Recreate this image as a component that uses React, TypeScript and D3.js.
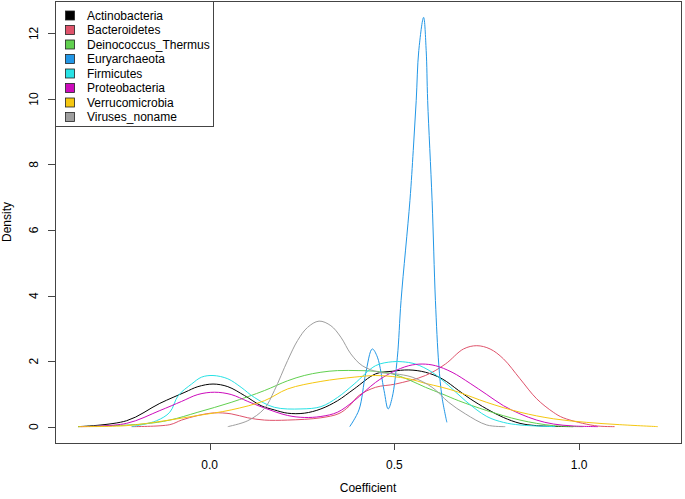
import * as d3 from 'd3'
import { useEffect, useRef } from 'react'

const width = 685, height = 499
const box = { left: 55, right: 681, top: 1, bottom: 443 }

const phyla = [
  'Actinobacteria', 'Bacteroidetes', 'Deinococcus_Thermus', 'Euryarchaeota',
  'Firmicutes', 'Proteobacteria', 'Verrucomicrobia', 'Viruses_noname',
]
const colors = ['#000000', '#DF536B', '#61D04F', '#2297E6', '#28E2E5', '#CD0BBC', '#F5C710', '#9E9E9E']

// density curves, [coefficient, density]
const actinobacteria = [
  [-0.356, 0], [-0.225, 0.18], [-0.135, 0.71], [-0.067, 1.05], [-0.032, 1.22], [0.009, 1.3],
  [0.049, 1.22], [0.094, 0.95], [0.139, 0.64], [0.175, 0.51], [0.211, 0.41], [0.256, 0.41],
  [0.301, 0.54], [0.346, 0.79], [0.391, 1.15], [0.449, 1.61], [0.494, 1.69], [0.539, 1.73],
  [0.584, 1.66], [0.629, 1.46], [0.674, 1.1], [0.705, 0.85], [0.75, 0.54], [0.795, 0.28],
  [0.84, 0.1], [0.885, 0.03], [0.984, 0],
]
const bacteroidetes = [
  [-0.211, 0], [-0.108, 0.06], [-0.076, 0.2], [-0.032, 0.34], [0.013, 0.42], [0.058, 0.39],
  [0.103, 0.27], [0.148, 0.2], [0.211, 0.2], [0.301, 0.27], [0.35, 0.4], [0.377, 0.62],
  [0.404, 0.95], [0.449, 1.2], [0.503, 1.3], [0.584, 1.56], [0.638, 1.91], [0.687, 2.37],
  [0.723, 2.47], [0.759, 2.37], [0.795, 2.07], [0.84, 1.46], [0.885, 0.85], [0.93, 0.44],
  [0.957, 0.27], [1.042, 0.03], [1.096, 0],
]
const deinococcus = [
  [-0.356, 0], [-0.18, 0.08], [-0.108, 0.2], [-0.032, 0.44], [0.058, 0.74], [0.148, 1.1],
  [0.211, 1.4], [0.256, 1.56], [0.301, 1.66], [0.346, 1.71], [0.404, 1.71], [0.449, 1.69],
  [0.494, 1.61], [0.539, 1.43], [0.584, 1.2], [0.629, 1.0], [0.674, 0.79], [0.75, 0.49],
  [0.84, 0.2], [0.93, 0.03], [1.011, 0],
]
const euryarchaeota = [
  [0.379, 0], [0.404, 0.51], [0.422, 1.61], [0.44, 2.37], [0.454, 2.12], [0.472, 1.1],
  [0.483, 0.54], [0.494, 0.89], [0.508, 2.12], [0.518, 3.85], [0.542, 6.9], [0.551, 8.43],
  [0.559, 9.95], [0.566, 11.48], [0.579, 12.49], [0.586, 11.48], [0.59, 9.95], [0.602, 6.9],
  [0.611, 3.85], [0.62, 1.91], [0.629, 0.89], [0.642, 0.13],
]
const firmicutes = [
  [-0.211, 0], [-0.144, 0.18], [-0.108, 0.44], [-0.085, 0.95], [-0.049, 1.3], [-0.022, 1.51],
  [0.009, 1.56], [0.049, 1.46], [0.085, 1.2], [0.121, 0.89], [0.175, 0.59], [0.247, 0.54],
  [0.301, 0.61], [0.346, 0.89], [0.391, 1.3], [0.449, 1.86], [0.494, 1.98], [0.521, 1.98],
  [0.557, 1.91], [0.602, 1.66], [0.647, 1.25], [0.692, 0.79], [0.75, 0.31], [0.795, 0.13],
  [0.84, 0.05], [0.935, 0],
]
const proteobacteria = [
  [-0.35, 0], [-0.225, 0.1], [-0.135, 0.49], [-0.076, 0.77], [-0.032, 0.98], [0.013, 1.05],
  [0.058, 0.98], [0.103, 0.77], [0.148, 0.57], [0.211, 0.34], [0.256, 0.28], [0.301, 0.31],
  [0.346, 0.44], [0.391, 0.79], [0.449, 1.35], [0.494, 1.66], [0.539, 1.86], [0.575, 1.91],
  [0.611, 1.86], [0.656, 1.66], [0.705, 1.32], [0.75, 0.98], [0.795, 0.64], [0.84, 0.39],
  [0.885, 0.2], [0.93, 0.08], [0.984, 0.02], [1.051, 0],
]
const verrucomicrobia = [
  [-0.356, 0], [-0.225, 0.03], [-0.121, 0.18], [-0.032, 0.34], [0.058, 0.51], [0.148, 0.79],
  [0.211, 1.15], [0.301, 1.38], [0.391, 1.51], [0.449, 1.56], [0.494, 1.53], [0.539, 1.46],
  [0.584, 1.32], [0.629, 1.2], [0.674, 1.05], [0.75, 0.74], [0.84, 0.44], [0.93, 0.24],
  [1.02, 0.13], [1.11, 0.06], [1.213, 0],
]
const virusesNoname = [
  [0.049, 0], [0.103, 0.18], [0.148, 0.55], [0.175, 1.1], [0.211, 2.02], [0.238, 2.63],
  [0.265, 3.03], [0.296, 3.22], [0.328, 3.08], [0.355, 2.73], [0.382, 2.22], [0.413, 1.86],
  [0.458, 1.66], [0.503, 1.61], [0.548, 1.51], [0.602, 1.2], [0.647, 0.74], [0.692, 0.39],
  [0.75, 0.05], [0.8, 0],
]
const series = [
  actinobacteria, bacteroidetes, deinococcus, euryarchaeota,
  firmicutes, proteobacteria, verrucomicrobia, virusesNoname,
]

const xTicks = [0, 0.5, 1.0]
const xTickLabels = ['0.0', '0.5', '1.0']
const yTicks = [0, 2, 4, 6, 8, 10, 12]

const font = '"Liberation Sans", Arial, sans-serif'

const chart = (node: SVGSVGElement) => {
  const all = series.flat()
  // R-style 4% padding on both axes
  const pad = (lo: number, hi: number) => [lo - (hi - lo) * 0.04, hi + (hi - lo) * 0.04]
  const x = d3.scaleLinear()
    .domain(pad(d3.min(all, d => d[0])!, d3.max(all, d => d[0])!))
    .range([box.left, box.right])
  const y = d3.scaleLinear()
    .domain(pad(0, d3.max(all, d => d[1])!))
    .range([box.bottom, box.top])

  const svg = d3.select(node)
  svg.selectAll('*').remove()
  svg.attr('width', width).attr('height', height)
    .attr('font-family', font).attr('font-size', 12)

  svg.append('rect').attr('width', width).attr('height', height).attr('fill', 'white')

  const line = d3.line<number[]>()
    .x(d => x(d[0]))
    .y(d => y(d[1]))
    .curve(d3.curveCatmullRom.alpha(0.5))

  svg.append('g')
    .attr('fill', 'none')
    .attr('stroke-width', 1)
    .selectAll('path')
    .data(series)
    .join('path')
    .attr('stroke', (_, i) => colors[i])
    .attr('d', d => line(d))

  // plot frame
  svg.append('rect')
    .attr('x', box.left + 0.5).attr('y', box.top + 0.5)
    .attr('width', box.right - box.left).attr('height', box.bottom - box.top)
    .attr('fill', 'none').attr('stroke', '#444')

  // x axis
  const gx = svg.append('g')
  gx.selectAll('line')
    .data(xTicks)
    .join('line')
    .attr('x1', d => Math.round(x(d)) + 0.5).attr('x2', d => Math.round(x(d)) + 0.5)
    .attr('y1', box.bottom).attr('y2', box.bottom + 7)
    .attr('stroke', '#444')
  gx.selectAll('text')
    .data(xTicks)
    .join('text')
    .attr('x', d => x(d)).attr('y', 468.5)
    .attr('text-anchor', 'middle')
    .text((_, i) => xTickLabels[i])
  svg.append('text')
    .attr('x', (box.left + box.right) / 2).attr('y', 491.5)
    .attr('text-anchor', 'middle')
    .text('Coefficient')

  // y axis
  const gy = svg.append('g')
  gy.selectAll('line')
    .data(yTicks)
    .join('line')
    .attr('x1', box.left - 7).attr('x2', box.left)
    .attr('y1', d => Math.round(y(d)) + 0.5).attr('y2', d => Math.round(y(d)) + 0.5)
    .attr('stroke', '#444')
  gy.selectAll('text')
    .data(yTicks)
    .join('text')
    .attr('transform', d => `translate(37.5,${y(d)}) rotate(-90)`)
    .attr('text-anchor', 'middle')
    .text(d => d)
  svg.append('text')
    .attr('transform', `translate(10.5,${(box.top + box.bottom) / 2}) rotate(-90)`)
    .attr('text-anchor', 'middle')
    .text('Density')

  // legend
  const lg = svg.append('g')
  lg.append('rect')
    .attr('x', box.left + 0.5).attr('y', box.top + 0.5)
    .attr('width', 158).attr('height', 125)
    .attr('fill', 'white').attr('stroke', '#444')
  const row = lg.selectAll('g')
    .data(phyla)
    .join('g')
    .attr('transform', (_, i) => `translate(0,${15.5 + i * 14.5})`)
  row.append('rect')
    .attr('x', 65.5).attr('y', -4.5)
    .attr('width', 9).attr('height', 9)
    .attr('fill', (_, i) => colors[i])
    .attr('stroke', '#222').attr('stroke-width', 0.8)
  row.append('text')
    .attr('x', 87).attr('y', 4.3)
    .text(d => d)

  return svg.node()
}

export default function App() {
  const ref = useRef<SVGSVGElement>(null)
  useEffect(() => {
    if (ref.current) chart(ref.current)
  }, [])
  return <svg ref={ref} style={{ position: 'absolute', left: 0, top: 0 }} />
}
